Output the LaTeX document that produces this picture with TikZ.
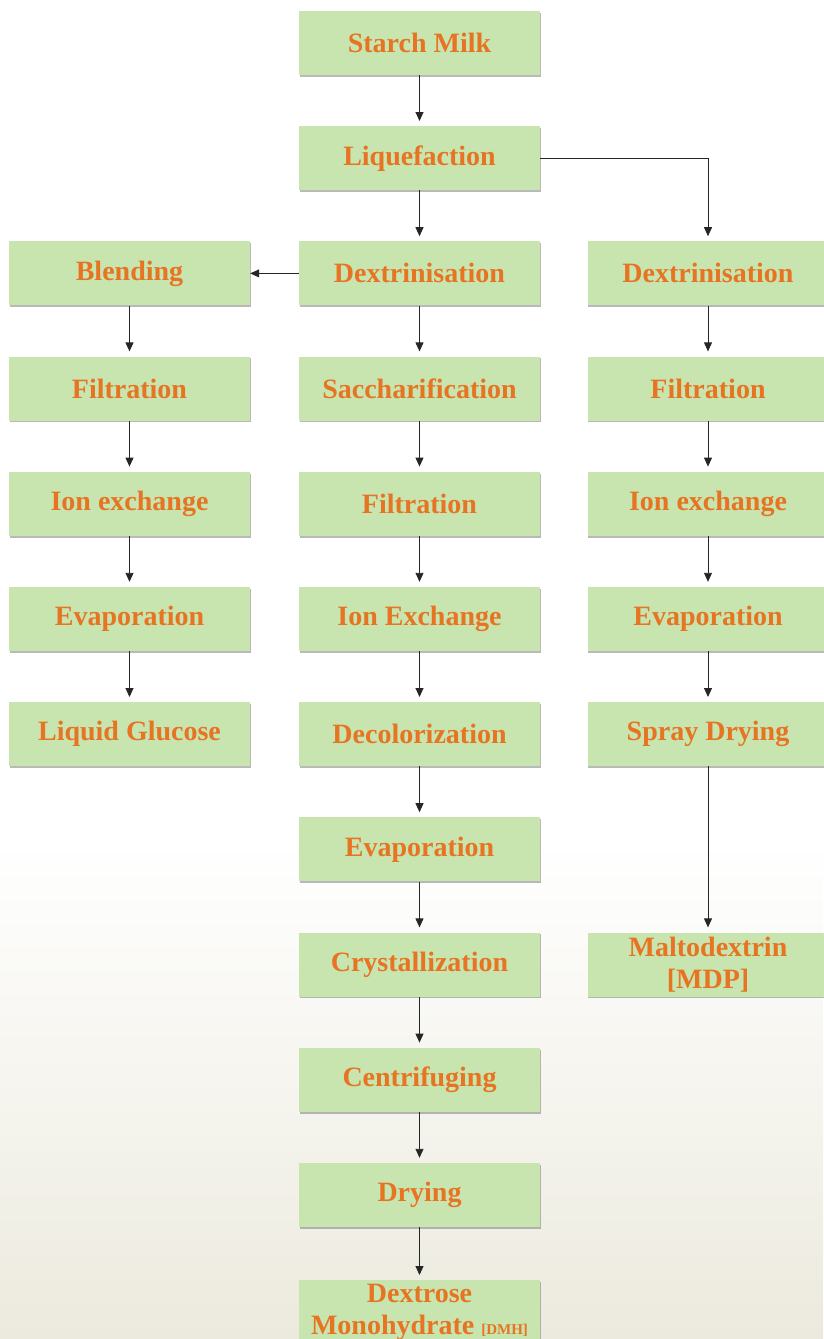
\documentclass[tikz,border=0pt]{standalone}
\usepackage{fontspec}
\setmainfont{Liberation Serif}
\usetikzlibrary{arrows.meta,shadows}
\definecolor{boxgreen}{RGB}{200,229,175}
\definecolor{steporange}{RGB}{231,116,34}
\definecolor{bgbeige}{RGB}{236,234,222}
\tikzset{
    stepbox/.style={fill=boxgreen, minimum width=241pt, minimum height=64pt,
        inner sep=0pt, align=center, text=steporange,
        font=\fontsize{28}{32}\selectfont\bfseries,
        drop shadow={shadow xshift=0.6pt, shadow yshift=-1.8pt, fill=black!55}},
    flow/.style={-{Triangle[width=8pt,length=9pt]}, line width=0.9pt, black!85}
}
\begin{document}
\begin{tikzpicture}[x=1pt,y=1pt]
    \useasboundingbox (0,0) rectangle (823,-1339);
    % background
    \shade[top color=white, bottom color=bgbeige] (0,-840) rectangle (823,-1339);

    % middle column
    \foreach \i/\v in {0/Starch Milk, 1/Liquefaction, 2/Dextrinisation, 3/Saccharification,
                       4/Filtration, 5/Ion Exchange, 6/Decolorization, 7/Evaporation,
                       8/Crystallization, 9/Centrifuging, 10/Drying} {
        \node[stepbox] (m\i) at (419.5, -43-115.2*\i) {\v};
    }
    \node[stepbox] (m11) at (419.5, -45-115.2*11)
        {Dextrose\\Monohydrate {\fontsize{15}{16}\selectfont[DMH]}};

    % left column
    \foreach \i/\v in {2/Blending, 3/Filtration, 4/Ion exchange, 5/Evaporation, 6/Liquid Glucose} {
        \node[stepbox] (l\i) at (129.5, -43-115.2*\i) {\v};
    }

    % right column
    \foreach \i/\v in {2/Dextrinisation, 3/Filtration, 4/Ion exchange, 5/Evaporation, 6/Spray Drying} {
        \node[stepbox] (r\i) at (708, -43-115.2*\i) {\v};
    }
    \node[stepbox] (r8) at (708, -43-115.2*8) {Maltodextrin\\{[MDP]}};

    % connectors
    \foreach \i [count=\j from 1] in {0,...,10} {
        \draw[flow, shorten >=5pt] (m\i.south) -- (m\j.north);
    }
    \foreach \i [count=\j from 3] in {2,...,5} {
        \draw[flow, shorten >=5pt] (l\i.south) -- (l\j.north);
        \draw[flow, shorten >=5pt] (r\i.south) -- (r\j.north);
    }
    \draw[flow, shorten >=5pt] (r6.south) -- (r8.north);
    \draw[flow, shorten >=5pt] (m1.east) -| (r2.north);
    \draw[flow] (m2.west) -- (l2.east);
\end{tikzpicture}
\end{document}
